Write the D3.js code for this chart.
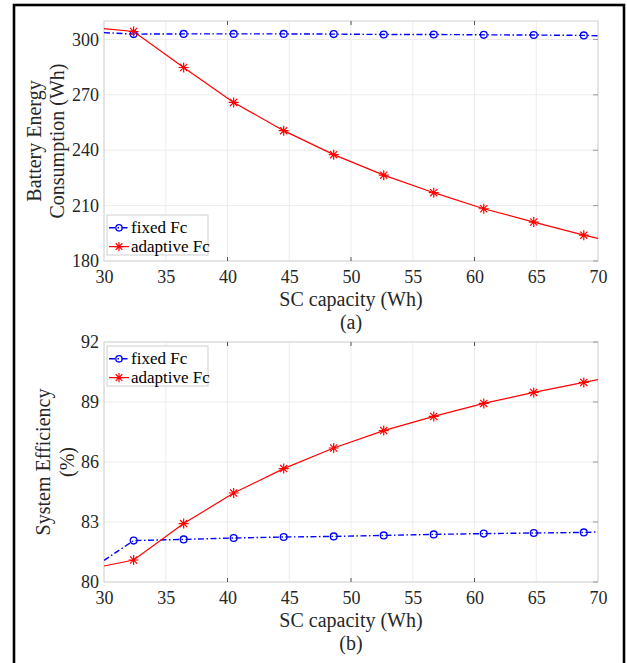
<!DOCTYPE html>
<html>
<head>
<meta charset="utf-8">
<script src="https://cdn.jsdelivr.net/npm/d3@7"></script>
<style>
  html, body { margin: 0; padding: 0; background: #fff; }
  svg { display: block; }
  svg text { font-family: "Liberation Serif", "Times New Roman", serif !important; }
</style>
</head>
<body>
<svg id="chart" width="627" height="663"></svg>
<script>
// ---------- data ----------
const capacity = [30, 32.4, 36.45, 40.5, 44.55, 48.6, 52.65, 56.7, 60.75, 64.8, 68.85, 70];
const energyFixed    = [303.7, 302.9, 303.0, 303.0, 303.0, 302.9, 302.7, 302.7, 302.5, 302.4, 302.2, 302.0];
const energyAdaptive = [305.9, 304.3, 284.8, 265.9, 250.6, 237.6, 226.5, 217.0, 208.3, 201.1, 194.0, 192.3];
const effFixed    = [81.08, 82.07, 82.13, 82.20, 82.25, 82.28, 82.33, 82.38, 82.42, 82.45, 82.48, 82.50];
const effAdaptive = [80.80, 81.10, 82.92, 84.45, 85.67, 86.70, 87.57, 88.28, 88.93, 89.48, 89.98, 90.12];
const xTicks = [30, 35, 40, 45, 50, 55, 60, 65, 70];
const energyTicks = [180, 210, 240, 270, 300];
const effTicks = [80, 83, 86, 89, 92];
const seriesNames = ["fixed Fc", "adaptive Fc"];
const xLabel = "SC capacity (Wh)";

const FONT = "'Liberation Serif', 'Times New Roman', serif";
const svg = d3.select("#chart");

// outer frame
svg.append("rect").attr("x", 14).attr("y", 5).attr("width", 610).attr("height", 720)
  .attr("fill", "none").attr("stroke", "#000").attr("stroke-width", 2.6);

const left = 104, right = 598;
const x = d3.scaleLinear().domain([30, 70]).range([left, right]);

function asterisk(g, cx, cy, r, color) {
  const d = r * 0.72;
  const p = `M${cx - r},${cy}L${cx + r},${cy}M${cx},${cy - r}L${cx},${cy + r}` +
            `M${cx - d},${cy - d}L${cx + d},${cy + d}M${cx - d},${cy + d}L${cx + d},${cy - d}`;
  g.append("path").attr("d", p).attr("stroke", color).attr("stroke-width", 1.2).attr("fill", "none");
}

function panel(opts) {
  const { top, bottom, yDomain, yTicks, fixed, adaptive, yLines, yLabelX, legendY, caption, clipId } = opts;
  const y = d3.scaleLinear().domain(yDomain).range([bottom, top]);
  const g = svg.append("g");

  // grid
  g.selectAll(".gx").data(xTicks).join("line")
    .attr("x1", d => x(d)).attr("x2", d => x(d)).attr("y1", top).attr("y2", bottom)
    .attr("stroke", "#ececec").attr("stroke-width", 1);
  g.selectAll(".gy").data(yTicks).join("line")
    .attr("x1", left).attr("x2", right).attr("y1", d => y(d)).attr("y2", d => y(d))
    .attr("stroke", "#ececec").attr("stroke-width", 1);

  // frame
  g.append("rect").attr("x", left).attr("y", top).attr("width", right - left).attr("height", bottom - top)
    .attr("fill", "none").attr("stroke", "#d4d4d4").attr("stroke-width", 1);

  // dark ticks at a few x positions (top & bottom)
  const darkX = [40, 50, 60];
  g.selectAll(".tx").data(darkX).join("line")
    .attr("x1", d => x(d)).attr("x2", d => x(d)).attr("y1", top).attr("y2", top + 4)
    .attr("stroke", "#555").attr("stroke-width", 1);
  g.selectAll(".bx").data(darkX).join("line")
    .attr("x1", d => x(d)).attr("x2", d => x(d)).attr("y1", bottom).attr("y2", bottom - 4)
    .attr("stroke", "#555").attr("stroke-width", 1);
  g.selectAll(".ry").data(yTicks).join("line")
    .attr("x1", right).attr("x2", right - 5).attr("y1", d => y(d)).attr("y2", d => y(d))
    .attr("stroke", "#999").attr("stroke-width", 1);

  // tick labels via axes (no domain/tick lines)
  const xAxis = g.append("g").attr("transform", `translate(0,${bottom})`)
    .call(d3.axisBottom(x).tickValues(xTicks).tickSize(0).tickPadding(9).tickFormat(d3.format("d")));
  xAxis.attr("font-family", null);
  xAxis.select(".domain").remove();
  xAxis.selectAll("text").style("font-size", "18px").style("font-family", FONT).attr("fill", "#262626");

  const yAxis = g.append("g").attr("transform", `translate(${left},0)`)
    .call(d3.axisLeft(y).tickValues(yTicks).tickSize(0).tickPadding(5).tickFormat(d3.format("d")));
  yAxis.attr("font-family", null);
  yAxis.select(".domain").remove();
  yAxis.selectAll("text").style("font-size", "18px").style("font-family", FONT).attr("fill", "#262626");

  // clip
  svg.append("clipPath").attr("id", clipId).append("rect")
    .attr("x", left).attr("y", top).attr("width", right - left).attr("height", bottom - top);
  const plot = g.append("g").attr("clip-path", `url(#${clipId})`);

  const line = d3.line().x((d, i) => x(capacity[i])).y(d => y(d));

  // fixed (blue dash-dot with circles)
  plot.append("path").attr("d", line(fixed)).attr("fill", "none")
    .attr("stroke", "#0000ff").attr("stroke-width", 1.4).attr("stroke-dasharray", "6,2.5,1.5,2.5");
  // adaptive (red solid with asterisks)
  plot.append("path").attr("d", line(adaptive)).attr("fill", "none")
    .attr("stroke", "#ff0000").attr("stroke-width", 1.2);

  const markIdx = d3.range(1, capacity.length - 1);
  plot.selectAll(".mc").data(markIdx).join("circle")
    .attr("cx", i => x(capacity[i])).attr("cy", i => y(fixed[i])).attr("r", 3.4)
    .attr("fill", "none").attr("stroke", "#0000ff").attr("stroke-width", 1.3);
  markIdx.forEach(i => asterisk(plot, x(capacity[i]), y(adaptive[i]), 5, "#ff0000"));

  // x label and caption
  g.append("text").attr("x", (left + right) / 2).attr("y", bottom + 45)
    .attr("text-anchor", "middle").style("font-size", "20px").style("font-family", FONT)
    .attr("fill", "#262626").text(xLabel);
  g.append("text").attr("x", (left + right) / 2).attr("y", bottom + 68)
    .attr("text-anchor", "middle").style("font-size", "20px").style("font-family", FONT)
    .attr("fill", "#262626").text(caption);

  // y label (two lines)
  const cy = (top + bottom) / 2;
  yLines.forEach((t, k) => {
    g.append("text").attr("transform", `translate(${yLabelX[k]},${cy}) rotate(-90)`)
      .attr("text-anchor", "middle").style("font-size", "20px").style("font-family", FONT)
      .attr("fill", "#262626").text(t);
  });

  // legend
  const lg = g.append("g").attr("transform", `translate(107,${legendY})`);
  lg.append("rect").attr("x", 0).attr("y", 0).attr("width", 101).attr("height", 40)
    .attr("fill", "#fff").attr("stroke", "#cfcfcf").attr("stroke-width", 1);
  const rows = [12.8, 31.6];
  lg.append("line").attr("x1", 2).attr("x2", 22).attr("y1", rows[0]).attr("y2", rows[0])
    .attr("stroke", "#0000ff").attr("stroke-width", 1.4).attr("stroke-dasharray", "6,2.5,1.5,2.5");
  lg.append("circle").attr("cx", 12).attr("cy", rows[0]).attr("r", 3.2)
    .attr("fill", "none").attr("stroke", "#0000ff").attr("stroke-width", 1.3);
  lg.append("line").attr("x1", 2).attr("x2", 22).attr("y1", rows[1]).attr("y2", rows[1])
    .attr("stroke", "#ff0000").attr("stroke-width", 1.2);
  asterisk(lg, 12, rows[1], 4.6, "#ff0000");
  seriesNames.forEach((n, k) => {
    lg.append("text").attr("x", 24).attr("y", rows[k] + 5.5).style("font-size", "17px")
      .style("font-family", FONT).attr("fill", "#000").text(n);
  });
}

panel({
  top: 21, bottom: 261, yDomain: [180, 310], yTicks: energyTicks,
  fixed: energyFixed, adaptive: energyAdaptive,
  yLines: ["Battery Energy", "Consumption (Wh)"], yLabelX: [41, 64],
  legendY: 215, caption: "(a)", clipId: "clipA"
});
panel({
  top: 342, bottom: 582, yDomain: [80, 92], yTicks: effTicks,
  fixed: effFixed, adaptive: effAdaptive,
  yLines: ["System Efficiency", "(%)"], yLabelX: [50, 74],
  legendY: 346, caption: "(b)", clipId: "clipB"
});
</script>
</body>
</html>
